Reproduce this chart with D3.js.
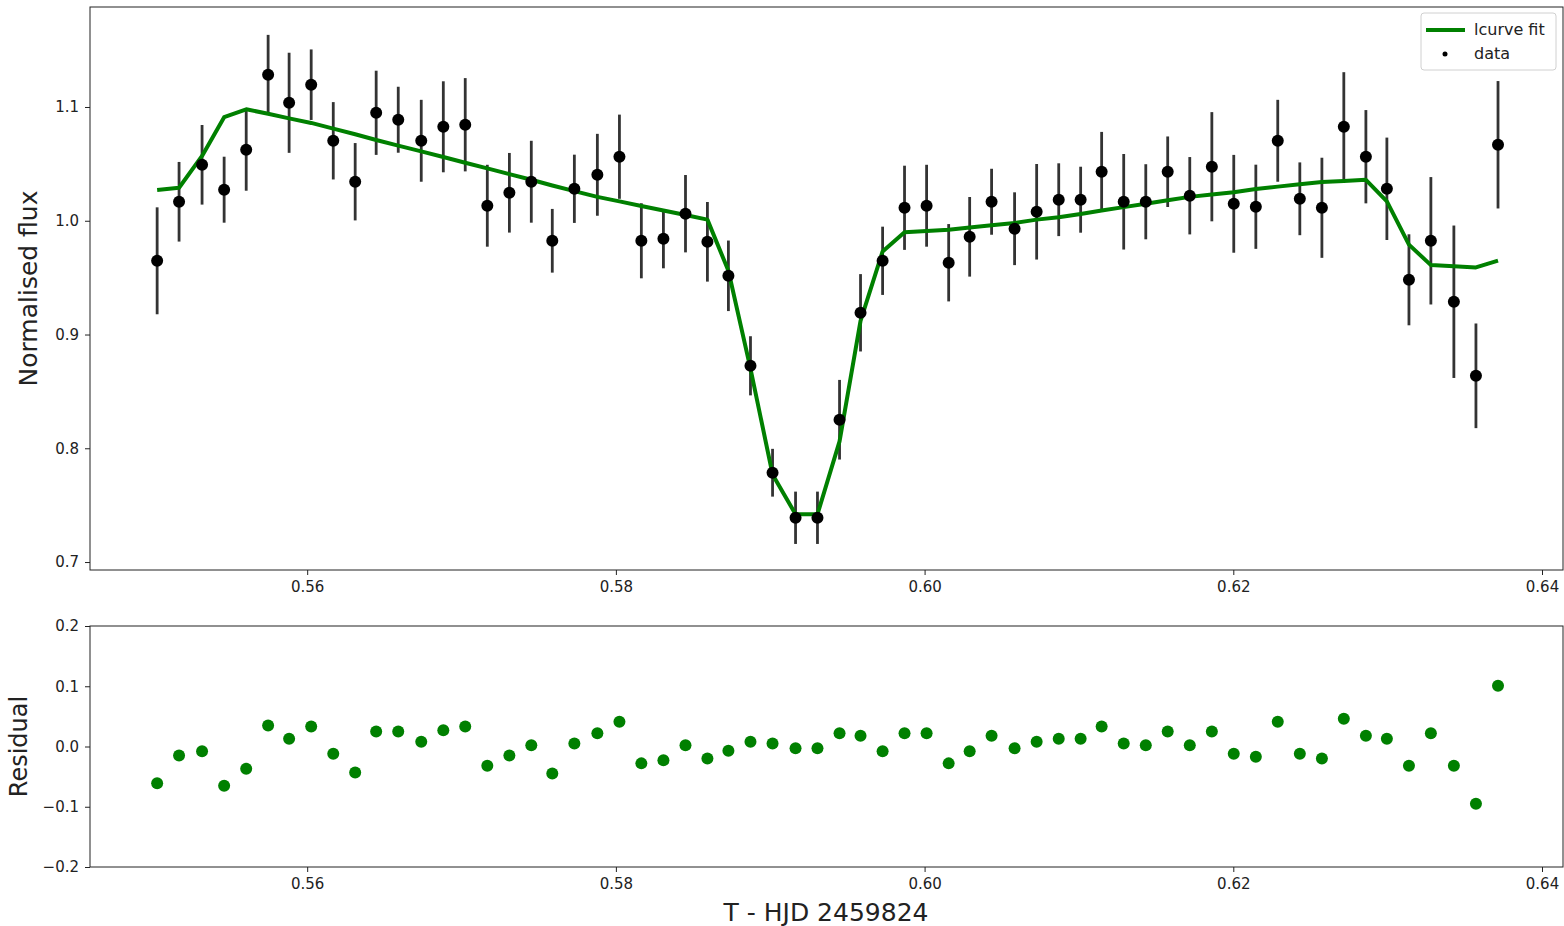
<!DOCTYPE html>
<html>
<head>
<meta charset="utf-8">
<script src="https://cdn.jsdelivr.net/npm/d3@7"></script>
<style>
  body { margin: 0; background: #fff; }
  svg { display: block; }
  text { font-family: "DejaVu Sans", sans-serif; fill: #222; }
  .axis path, .axis line { stroke: #222; }
</style>
</head>
<body>
<svg width="1564" height="926"></svg>
<script>
// time (T - HJD 2459824)
var times = [0.55028, 0.55170, 0.55319, 0.55462, 0.55605, 0.55747, 0.55883, 0.56026, 0.56169, 0.56311,
	0.56447, 0.56590, 0.56739, 0.56882, 0.57024, 0.57167, 0.57310, 0.57452, 0.57588, 0.57731,
	0.57880, 0.58023, 0.58165, 0.58308, 0.58451, 0.58593, 0.58729, 0.58872, 0.59015, 0.59164,
	0.59306, 0.59449, 0.59585, 0.59728, 0.59870, 0.60013, 0.60156, 0.60292, 0.60434, 0.60583,
	0.60726, 0.60869, 0.61011, 0.61147, 0.61290, 0.61433, 0.61575, 0.61718, 0.61861, 0.62003,
	0.62146, 0.62288, 0.62431, 0.62574, 0.62716, 0.62859, 0.62995, 0.63138, 0.63280, 0.63429,
	0.63572, 0.63715];

var flux = [0.9648, 1.0167, 1.0492, 1.0273, 1.0624, 1.1284, 1.1037, 1.1196, 1.0703, 1.0343,
	1.0949, 1.0888, 1.0703, 1.0826, 1.0844, 1.0132, 1.0246, 1.0343, 0.9824, 1.0281,
	1.0404, 1.0563, 0.9824, 0.9842, 1.0062, 0.9815, 0.9516, 0.8725, 0.7785, 0.7389,
	0.7389, 0.8251, 0.9191, 0.9648, 1.0114, 1.0132, 0.9631, 0.9859, 1.0167, 0.9930,
	1.0079, 1.0185, 1.0185, 1.0431, 1.0167, 1.0167, 1.0431, 1.0220, 1.0475, 1.0149,
	1.0123, 1.0703, 1.0193, 1.0114, 1.0826, 1.0563, 1.0281, 0.9481, 0.9824, 0.9288,
	0.8637, 1.0668];

var fluxErr = [0.047, 0.035, 0.035, 0.029, 0.036, 0.035, 0.044, 0.031, 0.034, 0.034,
	0.037, 0.029, 0.036, 0.040, 0.041, 0.036, 0.035, 0.036, 0.028, 0.030,
	0.036, 0.037, 0.033, 0.026, 0.034, 0.035, 0.031, 0.026, 0.021, 0.023,
	0.023, 0.035, 0.034, 0.030, 0.037, 0.036, 0.034, 0.035, 0.029, 0.032,
	0.042, 0.032, 0.029, 0.035, 0.042, 0.033, 0.031, 0.034, 0.048, 0.043,
	0.037, 0.036, 0.032, 0.044, 0.048, 0.041, 0.045, 0.040, 0.056, 0.067,
	0.046, 0.056];

var model = [1.027, 1.029, 1.057, 1.091, 1.098, 1.094, 1.090, 1.086, 1.081, 1.076,
	1.071, 1.066, 1.061, 1.056, 1.051, 1.046, 1.041, 1.036, 1.031, 1.026,
	1.021, 1.017, 1.013, 1.009, 1.005, 1.001, 0.956, 0.870, 0.777, 0.742,
	0.742, 0.806, 0.912, 0.973, 0.990, 0.991, 0.992, 0.994, 0.996, 0.998,
	1.001, 1.003, 1.006, 1.009, 1.012, 1.015, 1.018, 1.021, 1.023, 1.025,
	1.028, 1.030, 1.032, 1.034, 1.035, 1.036, 1.017, 0.979, 0.961, 0.960,
	0.959, 0.965];

var residual = [-0.061, -0.015, -0.008, -0.065, -0.037, 0.035, 0.013, 0.033, -0.012, -0.043,
	0.025, 0.025, 0.008, 0.027, 0.033, -0.032, -0.015, 0.002, -0.045, 0.005,
	0.022, 0.041, -0.028, -0.023, 0.002, -0.020, -0.007, 0.008, 0.005, -0.003,
	-0.003, 0.022, 0.018, -0.008, 0.022, 0.022, -0.028, -0.008, 0.018, -0.003,
	0.008, 0.013, 0.013, 0.033, 0.005, 0.002, 0.025, 0.002, 0.025, -0.012,
	-0.017, 0.041, -0.012, -0.020, 0.046, 0.018, 0.013, -0.032, 0.022, -0.032,
	-0.095, 0.101];

var xTicks = [0.56, 0.58, 0.60, 0.62, 0.64];
var fluxTicks = [0.7, 0.8, 0.9, 1.0, 1.1];
var resTicks = [-0.2, -0.1, 0.0, 0.1, 0.2];

var xDomain = [0.54593, 0.64136];
var fluxDomain = [0.693, 1.1879];
var resDomain = [-0.2, 0.2];

var svg = d3.select("svg");
var left = 90, right = 1563;
var top1 = 7, bottom1 = 570;
var top2 = 626, bottom2 = 867;

var x = d3.scaleLinear().domain(xDomain).range([left, right]);
var y1 = d3.scaleLinear().domain(fluxDomain).range([bottom1, top1]);
var y2 = d3.scaleLinear().domain(resDomain).range([bottom2, top2]);

var pts = times.map(function (t, i) {
	return {t: t, f: flux[i], e: fluxErr[i], m: model[i], r: residual[i]};
});

function drawAxes(y, yTicks, yFmt, yTop, yBot) {
	svg.append("g")
		.attr("class", "axis")
		.attr("transform", "translate(0," + yBot + ")")
		.call(d3.axisBottom(x).tickValues(xTicks).tickFormat(d3.format(".2f")).tickSize(5).tickPadding(6))
		.call(function (g) { g.select(".domain").remove(); })
		.selectAll("text").style("font-size", "15px");
	svg.append("g")
		.attr("class", "axis")
		.attr("transform", "translate(" + left + ",0)")
		.call(d3.axisLeft(y).tickValues(yTicks).tickFormat(d3.format(yFmt)).tickSize(5).tickPadding(6))
		.call(function (g) { g.select(".domain").remove(); })
		.selectAll("text").style("font-size", "15px");
	svg.append("rect")
		.attr("x", left).attr("y", yTop)
		.attr("width", right - left).attr("height", yBot - yTop)
		.attr("fill", "none").attr("stroke", "#222").attr("stroke-width", 1);
}

// top panel
drawAxes(y1, fluxTicks, ".1f", top1, bottom1);

svg.append("g").selectAll("line")
	.data(pts)
	.enter().append("line")
	.attr("x1", function (d) { return x(d.t); })
	.attr("x2", function (d) { return x(d.t); })
	.attr("y1", function (d) { return y1(d.f - d.e); })
	.attr("y2", function (d) { return y1(d.f + d.e); })
	.attr("stroke", "#333")
	.attr("stroke-width", 2.8);

var line = d3.line()
	.x(function (d) { return x(d.t); })
	.y(function (d) { return y1(d.m); });

svg.append("path")
	.datum(pts)
	.attr("d", line)
	.attr("fill", "none")
	.attr("stroke", "#008000")
	.attr("stroke-width", 4)
	.attr("stroke-linejoin", "round");

svg.append("g").selectAll("circle")
	.data(pts)
	.enter().append("circle")
	.attr("cx", function (d) { return x(d.t); })
	.attr("cy", function (d) { return y1(d.f); })
	.attr("r", 6)
	.style("fill", "#000");

// legend
var lg = svg.append("g").attr("transform", "translate(1421,13)");
lg.append("rect")
	.attr("width", 135).attr("height", 57).attr("rx", 3)
	.attr("fill", "#fff").attr("fill-opacity", 0.8)
	.attr("stroke", "#d0d0d0");
lg.append("line")
	.attr("x1", 5).attr("x2", 44).attr("y1", 17).attr("y2", 17)
	.attr("stroke", "#008000").attr("stroke-width", 4);
lg.append("circle").attr("cx", 24).attr("cy", 41).attr("r", 2.5).style("fill", "#000");
lg.append("text").attr("x", 53).attr("y", 22).style("font-size", "16px").text("lcurve fit");
lg.append("text").attr("x", 53).attr("y", 46).style("font-size", "16px").text("data");

svg.append("text")
	.attr("transform", "translate(37," + ((top1 + bottom1) / 2) + ") rotate(-90)")
	.attr("text-anchor", "middle")
	.style("font-size", "25px")
	.text("Normalised flux");

// bottom panel
drawAxes(y2, resTicks, ".1f", top2, bottom2);

svg.append("g").selectAll("circle")
	.data(pts)
	.enter().append("circle")
	.attr("cx", function (d) { return x(d.t); })
	.attr("cy", function (d) { return y2(d.r); })
	.attr("r", 6)
	.style("fill", "#008000");

svg.append("text")
	.attr("transform", "translate(27," + ((top2 + bottom2) / 2) + ") rotate(-90)")
	.attr("text-anchor", "middle")
	.style("font-size", "24px")
	.text("Residual");

svg.append("text")
	.attr("x", 826).attr("y", 921)
	.attr("text-anchor", "middle")
	.style("font-size", "25px")
	.text("T - HJD 2459824");
</script>
</body>
</html>
